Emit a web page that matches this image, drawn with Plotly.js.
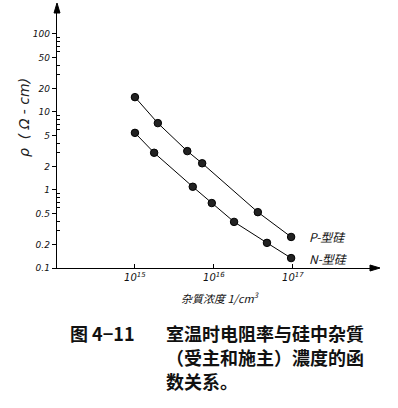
<!DOCTYPE html>
<html>
<head>
<meta charset="utf-8">
<script src="https://cdn.plot.ly/plotly-3.0.1.min.js"></script>
<style>html,body{margin:0;padding:0;background:#fff;}#chart{width:398px;height:408px;}</style>
</head>
<body>
<div id="chart"></div>
<script>
// Data (impurity concentration in cm^-3, resistivity in ohm-cm)
var pConc = [1.0e15, 1.95e15, 4.6e15, 7.1e15, 3.6e16, 9.5e16];
var pRho  = [15.5, 7.2, 3.15, 2.2, 0.52, 0.25];
var nConc = [1.0e15, 1.75e15, 5.4e15, 9.4e15, 1.8e16, 4.7e16, 9.5e16];
var nRho  = [5.4, 3.0, 1.1, 0.68, 0.39, 0.21, 0.134];
var seriesNames = ["P-型硅", "N-型硅"];

var xTickVals = [1e15, 1e16, 1e17];
var xTickText = ["10<sup>15</sup>", "10<sup>16</sup>", "10<sup>17</sup>"];
var yTickVals = [0.1, 0.2, 0.5, 1, 2, 5, 10, 20, 50, 100];
var yTickText = ["0.1", "0.2", "0.5", "1", "2", "5", "10", "20", "50", "100"];
var yMinorVals = [0.3, 0.4, 0.6, 0.7, 0.8, 0.9, 3, 4, 6, 7, 8, 9, 30, 40, 60, 70, 80, 90];

var xTitle = "杂質浓度 1/cm<sup>3</sup>";
var yTitle = "ρ  ( Ω - cm)";
var figLabel = "图 4−11";
var captionLines = ["室温时电阻率与硅中杂質", "（受主和施主）濃度的函", "数关系。"];

var hand = {family: "DejaVu Sans", size: 9, color: "#111", style: "italic"};
var xHand = {family: "DejaVu Sans", size: 10, color: "#111", style: "italic"};
var marker = {symbol: "circle", size: 7.5, color: "#222", line: {color: "#000", width: 1}};

var traces = [
  {x: pConc, y: pRho, mode: "lines+markers", name: seriesNames[0], line: {color: "#000", width: 1}, marker: marker},
  {x: nConc, y: nRho, mode: "lines+markers", name: seriesNames[1], line: {color: "#000", width: 1}, marker: marker}
];

// pixel helpers for placing text relative to the plot area
var L = 57, T = 8, W = 318, H = 260;
function px(x) { return (x - L) / W; }
function py(y) { return (T + H - y) / H; }

// arrowheads at the axis ends (paper coordinates)
var shapes = [
  {type: "path", xref: "paper", yref: "paper", fillcolor: "#000", line: {color: "#000", width: 1},
   path: "M " + px(57) + "," + py(3) + " L " + px(54) + "," + py(13) + " L " + px(60) + "," + py(13) + " Z"},
  {type: "path", xref: "paper", yref: "paper", fillcolor: "#000", line: {color: "#000", width: 1},
   path: "M " + px(380) + "," + py(268) + " L " + px(370) + "," + py(265) + " L " + px(370) + "," + py(271) + " Z"}
];

var cjk = "Noto Sans CJK SC";
function note(x, y, text, font, extra) {
  var a = {xref: "paper", yref: "paper", x: x, y: y, text: text, showarrow: false,
           xanchor: "center", yanchor: "middle", font: font};
  for (var k in extra) a[k] = extra[k];
  return a;
}
var capFont = {family: cjk, size: 18, color: "#111", weight: "bold"};
var annotations = [
  // series labels at line ends
  {x: Math.log10(pConc[pConc.length - 1]), y: Math.log10(pRho[pRho.length - 1]), xref: "x", yref: "y",
   text: seriesNames[0], showarrow: false, xanchor: "left", yanchor: "middle", xshift: 16,
   font: {family: cjk, size: 12, color: "#111", style: "italic"}},
  {x: Math.log10(nConc[nConc.length - 1]), y: Math.log10(nRho[nRho.length - 1]), xref: "x", yref: "y",
   text: seriesNames[1], showarrow: false, xanchor: "left", yanchor: "middle", xshift: 16,
   font: {family: cjk, size: 12, color: "#111", style: "italic"}},
  // axis titles
  note(px(220), py(297), xTitle, {family: cjk, size: 11, color: "#111", style: "italic"}),
  note(px(24), py(118), yTitle, {family: "DejaVu Sans", size: 14, color: "#222", style: "italic"}, {textangle: -90}),
  // figure caption
  note(px(68), py(333), figLabel, {family: cjk, size: 18, color: "#111", weight: "bold"}, {xanchor: "left", height: 22}),
  note(px(164), py(333), captionLines[0], capFont, {xanchor: "left", height: 22}),
  note(px(164), py(357), captionLines[1], capFont, {xanchor: "left", height: 22}),
  note(px(164), py(381), captionLines[2], capFont, {xanchor: "left", height: 22})
];

var layout = {
  width: 398, height: 408,
  margin: {l: L, r: 398 - L - W, t: T, b: 408 - T - H, pad: 0},
  paper_bgcolor: "#fff", plot_bgcolor: "#fff",
  showlegend: false,
  xaxis: {
    type: "log", range: [14.013, 18.04],
    showgrid: false, zeroline: false,
    showline: true, linecolor: "#000", linewidth: 1.3,
    tickmode: "array", tickvals: xTickVals, ticktext: xTickText,
    ticks: "inside", ticklen: 4, tickcolor: "#000", tickwidth: 1,
    tickfont: xHand
  },
  yaxis: {
    type: "log", range: [-1, 2.333],
    showgrid: false, zeroline: false,
    showline: true, linecolor: "#000", linewidth: 1.3,
    tickmode: "array", tickvals: yTickVals, ticktext: yTickText,
    ticks: "outside", ticklen: 4, tickcolor: "#000", tickwidth: 1,
    tickfont: hand,
    minor: {tickmode: "array", tickvals: yMinorVals, ticks: "inside", ticklen: 3, tickcolor: "#000", tickwidth: 1}
  },
  shapes: shapes,
  annotations: annotations
};

Plotly.newPlot("chart", traces, layout, {staticPlot: true, displayModeBar: false});
</script>
</body>
</html>
